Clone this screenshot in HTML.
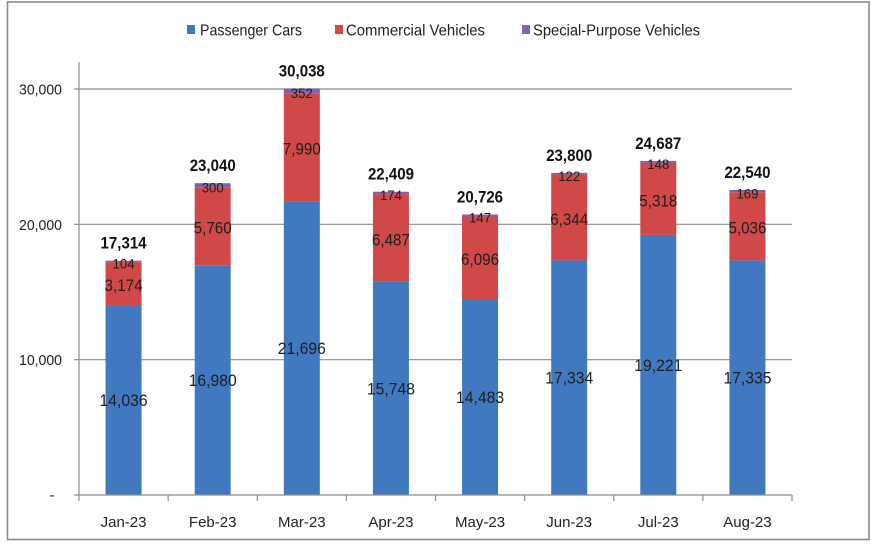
<!DOCTYPE html>
<html>
<head>
<meta charset="utf-8">
<style>
  html, body { margin: 0; padding: 0; background: #ffffff; }
  svg { display: block; }
  text { font-family: "Liberation Sans", sans-serif; fill: #1e1e1e; }
  .v { font-size: 16.5px; text-anchor: middle; }
  .s { font-size: 13.5px; text-anchor: middle; }
  .t { font-size: 16.5px; font-weight: bold; text-anchor: middle; fill: #111; }
  .ax { font-size: 15px; fill: #222; }
  .lg { font-size: 16px; fill: #222; }
</style>
</head>
<body>
<svg width="871" height="546" viewBox="0 0 871 546" xmlns="http://www.w3.org/2000/svg">
  <rect x="0" y="0" width="871" height="546" fill="#ffffff"/>
  <!-- outer border -->
  <rect x="7.5" y="2" width="861.5" height="537.5" fill="none" stroke="#8a8a8a" stroke-width="1.6"/>

  <!-- legend -->
  <rect x="187" y="25" width="8" height="9" fill="#4179c0"/>
  <text class="lg" x="200" y="35.5" textLength="102" lengthAdjust="spacingAndGlyphs">Passenger Cars</text>
  <rect x="335" y="25" width="8" height="9" fill="#d04848"/>
  <text class="lg" x="346" y="35.5" textLength="139" lengthAdjust="spacingAndGlyphs">Commercial Vehicles</text>
  <rect x="522" y="25" width="8" height="9" fill="#8462a8"/>
  <text class="lg" x="533" y="35.5" textLength="167" lengthAdjust="spacingAndGlyphs">Special-Purpose Vehicles</text>

  <!-- gridlines -->
  <g stroke="#8c8c8c" stroke-width="1.2">
    <line x1="74" y1="89" x2="792" y2="89"/>
    <line x1="74" y1="224.3" x2="792" y2="224.3"/>
    <line x1="74" y1="359.7" x2="792" y2="359.7"/>
  </g>

  <!-- y axis labels -->
  <text class="ax" x="62" y="94.5" text-anchor="end" textLength="43" lengthAdjust="spacingAndGlyphs">30,000</text>
  <text class="ax" x="62" y="229.8" text-anchor="end" textLength="43" lengthAdjust="spacingAndGlyphs">20,000</text>
  <text class="ax" x="62" y="365.2" text-anchor="end" textLength="43" lengthAdjust="spacingAndGlyphs">10,000</text>
  <text class="ax" x="52" y="500" text-anchor="middle">-</text>

  <!-- bars -->
  <g>
    <!-- Jan -->
    <rect x="105.56" y="305.05" width="36" height="189.95" fill="#4179c0"/>
    <rect x="105.56" y="262.1" width="36" height="42.95" fill="#d04848"/>
    <rect x="105.56" y="260.69" width="36" height="1.41" fill="#8462a8"/>
    <!-- Feb -->
    <rect x="194.69" y="265.2" width="36" height="229.8" fill="#4179c0"/>
    <rect x="194.69" y="187.25" width="36" height="77.95" fill="#d04848"/>
    <rect x="194.69" y="183.19" width="36" height="4.06" fill="#8462a8"/>
    <!-- Mar -->
    <rect x="283.81" y="201.38" width="36" height="293.62" fill="#4179c0"/>
    <rect x="283.81" y="93.25" width="36" height="108.13" fill="#d04848"/>
    <rect x="283.81" y="88.49" width="36" height="4.76" fill="#8462a8"/>
    <!-- Apr -->
    <rect x="372.94" y="281.88" width="36" height="213.12" fill="#4179c0"/>
    <rect x="372.94" y="194.09" width="36" height="87.79" fill="#d04848"/>
    <rect x="372.94" y="191.74" width="36" height="2.35" fill="#8462a8"/>
    <!-- May -->
    <rect x="462.06" y="299" width="36" height="196" fill="#4179c0"/>
    <rect x="462.06" y="216.5" width="36" height="82.5" fill="#d04848"/>
    <rect x="462.06" y="214.51" width="36" height="1.99" fill="#8462a8"/>
    <!-- Jun -->
    <rect x="551.19" y="260.41" width="36" height="234.59" fill="#4179c0"/>
    <rect x="551.19" y="174.55" width="36" height="85.86" fill="#d04848"/>
    <rect x="551.19" y="172.9" width="36" height="1.65" fill="#8462a8"/>
    <!-- Jul -->
    <rect x="640.31" y="234.88" width="36" height="260.12" fill="#4179c0"/>
    <rect x="640.31" y="162.91" width="36" height="71.97" fill="#d04848"/>
    <rect x="640.31" y="160.91" width="36" height="2" fill="#8462a8"/>
    <!-- Aug -->
    <rect x="729.44" y="260.4" width="36" height="234.6" fill="#4179c0"/>
    <rect x="729.44" y="192.25" width="36" height="68.15" fill="#d04848"/>
    <rect x="729.44" y="189.96" width="36" height="2.29" fill="#8462a8"/>
  </g>

  <!-- axes -->
  <g stroke="#8c8c8c" stroke-width="1.2">
    <line x1="79" y1="62" x2="79" y2="495"/>
    <line x1="74" y1="495" x2="792" y2="495"/>
    <line x1="79" y1="495" x2="79" y2="501"/>
    <line x1="168.1" y1="495" x2="168.1" y2="501"/>
    <line x1="257.3" y1="495" x2="257.3" y2="501"/>
    <line x1="346.4" y1="495" x2="346.4" y2="501"/>
    <line x1="435.5" y1="495" x2="435.5" y2="501"/>
    <line x1="524.6" y1="495" x2="524.6" y2="501"/>
    <line x1="613.8" y1="495" x2="613.8" y2="501"/>
    <line x1="702.9" y1="495" x2="702.9" y2="501"/>
    <line x1="792" y1="495" x2="792" y2="501"/>
  </g>

  <!-- blue labels -->
  <text class="v" x="123.56" y="406" textLength="48" lengthAdjust="spacingAndGlyphs">14,036</text>
  <text class="v" x="212.69" y="386.1" textLength="48" lengthAdjust="spacingAndGlyphs">16,980</text>
  <text class="v" x="301.81" y="354.2" textLength="48" lengthAdjust="spacingAndGlyphs">21,696</text>
  <text class="v" x="390.94" y="394.4" textLength="48" lengthAdjust="spacingAndGlyphs">15,748</text>
  <text class="v" x="480.06" y="403" textLength="48" lengthAdjust="spacingAndGlyphs">14,483</text>
  <text class="v" x="569.19" y="383.7" textLength="48" lengthAdjust="spacingAndGlyphs">17,334</text>
  <text class="v" x="658.31" y="370.9" textLength="48" lengthAdjust="spacingAndGlyphs">19,221</text>
  <text class="v" x="747.44" y="383.7" textLength="48" lengthAdjust="spacingAndGlyphs">17,335</text>

  <!-- red labels -->
  <text class="v" x="123.56" y="291" textLength="38" lengthAdjust="spacingAndGlyphs">3,174</text>
  <text class="v" x="212.69" y="233.6" textLength="38" lengthAdjust="spacingAndGlyphs">5,760</text>
  <text class="v" x="301.81" y="154.7" textLength="38" lengthAdjust="spacingAndGlyphs">7,990</text>
  <text class="v" x="390.94" y="245.4" textLength="38" lengthAdjust="spacingAndGlyphs">6,487</text>
  <text class="v" x="480.06" y="265.1" textLength="38" lengthAdjust="spacingAndGlyphs">6,096</text>
  <text class="v" x="569.19" y="224.9" textLength="38" lengthAdjust="spacingAndGlyphs">6,344</text>
  <text class="v" x="658.31" y="206.3" textLength="38" lengthAdjust="spacingAndGlyphs">5,318</text>
  <text class="v" x="747.44" y="233.7" textLength="38" lengthAdjust="spacingAndGlyphs">5,036</text>

  <!-- purple labels -->
  <text class="s" x="123.56" y="268.6" textLength="22" lengthAdjust="spacingAndGlyphs">104</text>
  <text class="s" x="212.69" y="192.4" textLength="22" lengthAdjust="spacingAndGlyphs">300</text>
  <text class="s" x="301.81" y="98.1" textLength="22" lengthAdjust="spacingAndGlyphs">352</text>
  <text class="s" x="390.94" y="200.1" textLength="22" lengthAdjust="spacingAndGlyphs">174</text>
  <text class="s" x="480.06" y="222.7" textLength="22" lengthAdjust="spacingAndGlyphs">147</text>
  <text class="s" x="569.19" y="180.9" textLength="22" lengthAdjust="spacingAndGlyphs">122</text>
  <text class="s" x="658.31" y="169.1" textLength="22" lengthAdjust="spacingAndGlyphs">148</text>
  <text class="s" x="747.44" y="198.3" textLength="22" lengthAdjust="spacingAndGlyphs">169</text>

  <!-- totals -->
  <text class="t" x="123.56" y="248.6" textLength="46" lengthAdjust="spacingAndGlyphs">17,314</text>
  <text class="t" x="212.69" y="171.1" textLength="46" lengthAdjust="spacingAndGlyphs">23,040</text>
  <text class="t" x="301.81" y="76.4" textLength="46" lengthAdjust="spacingAndGlyphs">30,038</text>
  <text class="t" x="390.94" y="179.6" textLength="46" lengthAdjust="spacingAndGlyphs">22,409</text>
  <text class="t" x="480.06" y="202.4" textLength="46" lengthAdjust="spacingAndGlyphs">20,726</text>
  <text class="t" x="569.19" y="160.8" textLength="46" lengthAdjust="spacingAndGlyphs">23,800</text>
  <text class="t" x="658.31" y="148.8" textLength="46" lengthAdjust="spacingAndGlyphs">24,687</text>
  <text class="t" x="747.44" y="177.9" textLength="46" lengthAdjust="spacingAndGlyphs">22,540</text>

  <!-- x axis labels -->
  <text class="ax" x="123.56" y="527" text-anchor="middle">Jan-23</text>
  <text class="ax" x="212.69" y="527" text-anchor="middle">Feb-23</text>
  <text class="ax" x="301.81" y="527" text-anchor="middle">Mar-23</text>
  <text class="ax" x="390.94" y="527" text-anchor="middle">Apr-23</text>
  <text class="ax" x="480.06" y="527" text-anchor="middle">May-23</text>
  <text class="ax" x="569.19" y="527" text-anchor="middle">Jun-23</text>
  <text class="ax" x="658.31" y="527" text-anchor="middle">Jul-23</text>
  <text class="ax" x="747.44" y="527" text-anchor="middle">Aug-23</text>
</svg>
</body>
</html>
